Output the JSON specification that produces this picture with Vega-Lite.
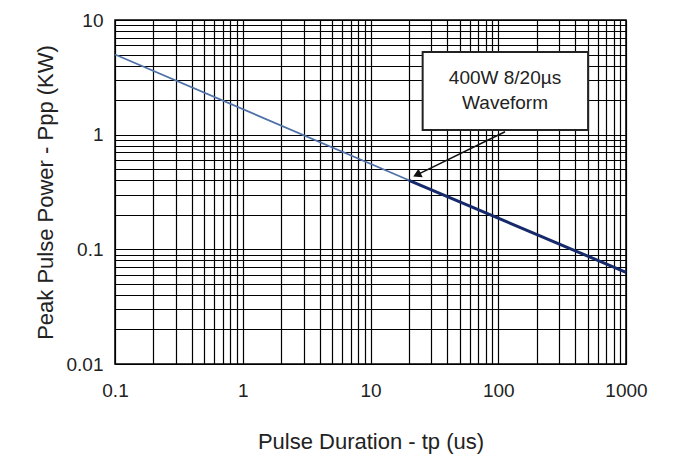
{
  "$schema": "https://vega.github.io/schema/vega-lite/v6.json",
  "width": 511,
  "height": 344,
  "autosize": {"type": "none"},
  "padding": {"left": 115, "top": 20, "right": 47, "bottom": 100},
  "background": "white",
  "config": {
    "view": {"stroke": "#000", "strokeWidth": 1.5},
    "font": "Liberation Sans"
  },
  "datasets": {
    "curve": [
      {"tp": 0.1, "ppp": 5, "seg": "a"},
      {"tp": 20, "ppp": 0.4, "seg": "a"},
      {"tp": 20, "ppp": 0.4, "seg": "b"},
      {"tp": 1000, "ppp": 0.063, "seg": "b"}
    ],
    "box": [
      {"tp": 25.6, "ppp": 5.26, "tp2": 505, "ppp2": 1.1}
    ],
    "notes": [
      {"tp": 113, "ppp": 3.12, "label": "400W 8/20µs"},
      {"tp": 113, "ppp": 1.89, "label": "Waveform"}
    ],
    "arrow": [
      {"tp": 113, "ppp": 1.06, "tp2": 23.5, "ppp2": 0.45}
    ],
    "head": [
      {"tp": 23.6, "ppp": 0.452}
    ]
  },
  "encoding": {
    "x": {
      "field": "tp",
      "type": "quantitative",
      "scale": {"type": "log", "domain": [0.1, 1000], "nice": false},
      "axis": {
        "values": [0.1, 0.2, 0.3, 0.4, 0.5, 0.6, 0.7, 0.8, 0.9, 1, 2, 3, 4, 5, 6, 7, 8, 9, 10, 20, 30, 40, 50, 60, 70, 80, 90, 100, 200, 300, 400, 500, 600, 700, 800, 900, 1000],
        "format": "~g",
        "labelExpr": "abs(log(datum.value)/LN10 - round(log(datum.value)/LN10)) < 0.001 ? datum.label : ''",
        "title": "Pulse Duration - tp (us)",
        "grid": true,
        "gridColor": "#000",
        "gridWidth": 1.2,
        "gridOpacity": 1,
        "ticks": false,
        "domain": false,
        "labelFontSize": 19,
        "labelColor": "#222",
        "labelPadding": 17,
        "labelFlush": false,
        "labelOverlap": false,
        "titleFontSize": 22,
        "titleFontWeight": "normal",
        "titleColor": "#222",
        "titlePadding": 31
      }
    },
    "y": {
      "field": "ppp",
      "type": "quantitative",
      "scale": {"type": "log", "domain": [0.01, 10], "nice": false},
      "axis": {
        "values": [0.01, 0.02, 0.03, 0.04, 0.05, 0.06, 0.07, 0.08, 0.09, 0.1, 0.2, 0.3, 0.4, 0.5, 0.6, 0.7, 0.8, 0.9, 1, 2, 3, 4, 5, 6, 7, 8, 9, 10],
        "format": "~g",
        "labelExpr": "abs(log(datum.value)/LN10 - round(log(datum.value)/LN10)) < 0.001 ? datum.label : ''",
        "title": "Peak Pulse Power - Ppp (KW)",
        "grid": true,
        "gridColor": "#000",
        "gridWidth": 1.2,
        "gridOpacity": 1,
        "ticks": false,
        "domain": false,
        "labelFontSize": 19,
        "labelColor": "#222",
        "labelPadding": 12,
        "labelOverlap": false,
        "titleFontSize": 22,
        "titleFontWeight": "normal",
        "titleColor": "#222",
        "titlePadding": 9
      }
    }
  },
  "layer": [
    {
      "data": {"name": "curve"},
      "transform": [{"filter": "datum.seg == 'a'"}],
      "mark": {"type": "line", "color": "#4f72a8", "strokeWidth": 1.8}
    },
    {
      "data": {"name": "curve"},
      "transform": [{"filter": "datum.seg == 'b'"}],
      "mark": {"type": "line", "color": "#15296b", "strokeWidth": 3}
    },
    {
      "data": {"name": "box"},
      "mark": {"type": "rect", "fill": "white", "stroke": "#222", "strokeWidth": 2},
      "encoding": {
        "x2": {"field": "tp2"},
        "y2": {"field": "ppp2"}
      }
    },
    {
      "data": {"name": "notes"},
      "mark": {"type": "text", "fontSize": 19, "color": "#222", "align": "center", "baseline": "middle"},
      "encoding": {
        "text": {"field": "label"}
      }
    },
    {
      "data": {"name": "arrow"},
      "mark": {"type": "rule", "color": "#111", "strokeWidth": 1.5},
      "encoding": {
        "x2": {"field": "tp2"},
        "y2": {"field": "ppp2"}
      }
    },
    {
      "data": {"name": "head"},
      "mark": {"type": "point", "shape": "triangle", "filled": true, "color": "#111", "size": 90, "angle": 244, "opacity": 1}
    }
  ]
}
